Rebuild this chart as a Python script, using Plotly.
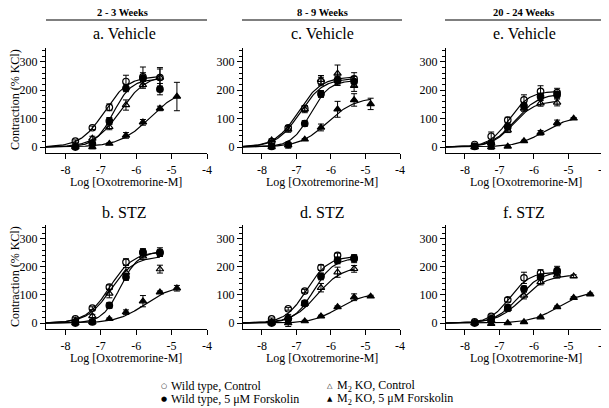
import numpy as np
import plotly.graph_objects as go

# the page body keeps its default 8 px margin, so the figure is drawn 8 px smaller
# and every reference pixel position is shifted by that margin
REF_W, REF_H, BODY = 609, 408, 8
W, H = REF_W - BODY, REF_H - BODY

# log molar concentrations of oxotremorine-M (3-fold steps)
LOG_CONC = [-7.72, -7.24, -6.76, -6.29, -5.81, -5.33, -4.85, -4.37]

X_TICKS = [-8, -7, -6, -5, -4]
Y_TICKS = [0, 100, 200, 300]

PANEL_TITLES = ["a. Vehicle", "b. STZ", "c. Vehicle", "d. STZ", "e. Vehicle", "f. STZ"]
GROUP_TITLES = ["2 - 3 Weeks", "8 - 9 Weeks", "20 - 24 Weeks"]
SERIES_NAMES = ["Wild type, Control", "Wild type, 5 \u03bcM Forskolin",
                "M<sub>2</sub> KO, Control", "M<sub>2</sub> KO, 5 \u03bcM Forskolin"]

# ---- panel a (2-3 weeks, vehicle)
a_wt_ctrl = [21, 68, 140, 231, 247, 245]
a_wt_ctrl_err = [4, 6, 12, 22, 35, 30]
a_wt_fsk = [0, 12, 92, 207, 242, 204]
a_wt_fsk_err = [3, 5, 12, 12, 20, 20]
a_ko_ctrl = [5, 30, 71, 148, 219, 245]
a_ko_ctrl_err = [3, 8, 10, 18, 12, 35]
a_ko_fsk = [0, 0, 12, 41, 87, 136, 178]
a_ko_fsk_err = [2, 6, 3, 10, 10, 8, 50]
a_fit_top = [250, 240, 255, 210]
a_fit_ec50 = [-6.9, -6.65, -6.45, -5.6]
a_fit_hill = [1.3, 1.7, 1.2, 1.0]

# ---- panel b (2-3 weeks, STZ)
b_wt_ctrl = [15, 53, 128, 217, 250, 253]
b_wt_ctrl_err = [4, 5, 8, 12, 10, 15]
b_wt_fsk = [0, 4, 63, 164, 253, 249]
b_wt_fsk_err = [3, 5, 10, 12, 12, 12]
b_ko_ctrl = [9, 25, 105, 180, 238, 192]
b_ko_ctrl_err = [4, 6, 15, 18, 12, 14]
b_ko_fsk = [0, 4, 15, 39, 78, 110, 124]
b_ko_fsk_err = [2, 8, 3, 8, 20, 4, 10]
b_fit_top = [255, 255, 238, 135]
b_fit_ec50 = [-6.75, -6.45, -6.72, -5.75]
b_fit_hill = [1.3, 1.7, 1.3, 1.1]

# ---- panel c (8-9 weeks, vehicle)
c_wt_ctrl = [18, 68, 136, 231, 237, 240]
c_wt_ctrl_err = [5, 8, 10, 15, 20, 22]
c_wt_fsk = [2, 9, 83, 187, 234, 231]
c_wt_fsk_err = [3, 5, 10, 12, 15, 18]
c_ko_ctrl = [24, 62, 133, 237, 259, 216]
c_ko_ctrl_err = [5, 10, 12, 15, 30, 20]
c_ko_fsk = [0, 6, 27, 69, 133, 166, 152]
c_ko_fsk_err = [2, 10, 3, 12, 28, 22, 20]
c_fit_top = [242, 235, 248, 175]
c_fit_ec50 = [-6.9, -6.6, -6.95, -6.1]
c_fit_hill = [1.3, 1.6, 1.3, 1.1]

# ---- panel d (8-9 weeks, STZ)
d_wt_ctrl = [15, 51, 114, 197, 241, 232]
d_wt_ctrl_err = [3, 5, 6, 10, 8, 10]
d_wt_fsk = [0, 15, 71, 166, 223, 229]
d_wt_fsk_err = [3, 10, 8, 12, 12, 14]
d_ko_ctrl = [4, 21, 69, 126, 181, 193]
d_ko_ctrl_err = [3, 10, 10, 15, 18, 12]
d_ko_fsk = [0, 0, 7, 24, 57, 92, 95]
d_ko_fsk_err = [2, 12, 3, 4, 4, 12, 4]
d_fit_top = [238, 232, 202, 105]
d_fit_ec50 = [-6.7, -6.5, -6.4, -5.8]
d_fit_hill = [1.4, 1.5, 1.2, 1.2]

# ---- panel e (20-24 weeks, vehicle)
e_wt_ctrl = [9, 38, 95, 166, 196, 192]
e_wt_ctrl_err = [4, 15, 10, 18, 20, 15]
e_wt_fsk = [2, 12, 71, 145, 178, 184]
e_wt_fsk_err = [3, 8, 10, 12, 12, 12]
e_ko_ctrl = [0, 14, 59, 136, 154, 157]
e_ko_ctrl_err = [3, 6, 8, 10, 10, 12]
e_ko_fsk = [0, 0, 2, 21, 50, 85, 101]
e_ko_fsk_err = [2, 8, 2, 3, 8, 10, 3]
e_fit_top = [197, 188, 163, 110]
e_fit_ec50 = [-6.72, -6.55, -6.6, -5.7]
e_fit_hill = [1.5, 1.3, 1.4, 1.1]

# ---- panel f (20-24 weeks, STZ)
f_wt_ctrl = [4, 24, 83, 161, 178, 181]
f_wt_ctrl_err = [3, 5, 8, 20, 12, 10]
f_wt_fsk = [0, 15, 55, 122, 164, 187]
f_wt_fsk_err = [3, 5, 10, 10, 10, 15]
f_ko_ctrl = [0, 9, 51, 98, 146, 170, 167]
f_ko_ctrl_err = [3, 5, 10, 12, 10, 10, 5]
f_ko_fsk = [0, -2, 0, 4, 21, 57, 90, 103]
f_ko_fsk_err = [2, 6, 2, 2, 3, 4, 4, 4]
f_fit_top = [182, 185, 172, 115]
f_fit_ec50 = [-6.7, -6.45, -6.35, -5.3]
f_fit_hill = [1.5, 1.3, 1.2, 1.1]

PANELS = [
    ([a_wt_ctrl, a_wt_fsk, a_ko_ctrl, a_ko_fsk],
     [a_wt_ctrl_err, a_wt_fsk_err, a_ko_ctrl_err, a_ko_fsk_err],
     a_fit_top, a_fit_ec50, a_fit_hill),
    ([b_wt_ctrl, b_wt_fsk, b_ko_ctrl, b_ko_fsk],
     [b_wt_ctrl_err, b_wt_fsk_err, b_ko_ctrl_err, b_ko_fsk_err],
     b_fit_top, b_fit_ec50, b_fit_hill),
    ([c_wt_ctrl, c_wt_fsk, c_ko_ctrl, c_ko_fsk],
     [c_wt_ctrl_err, c_wt_fsk_err, c_ko_ctrl_err, c_ko_fsk_err],
     c_fit_top, c_fit_ec50, c_fit_hill),
    ([d_wt_ctrl, d_wt_fsk, d_ko_ctrl, d_ko_fsk],
     [d_wt_ctrl_err, d_wt_fsk_err, d_ko_ctrl_err, d_ko_fsk_err],
     d_fit_top, d_fit_ec50, d_fit_hill),
    ([e_wt_ctrl, e_wt_fsk, e_ko_ctrl, e_ko_fsk],
     [e_wt_ctrl_err, e_wt_fsk_err, e_ko_ctrl_err, e_ko_fsk_err],
     e_fit_top, e_fit_ec50, e_fit_hill),
    ([f_wt_ctrl, f_wt_fsk, f_ko_ctrl, f_ko_fsk],
     [f_wt_ctrl_err, f_wt_fsk_err, f_ko_ctrl_err, f_ko_fsk_err],
     f_fit_top, f_fit_ec50, f_fit_hill),
]

# ---------------- styling / layout ----------------
SYMBOLS = ["circle-open", "circle", "triangle-up-open", "triangle-up"]
SERIF = "Liberation Serif"
X_RANGE = [-8.55, -4.0]
Y_RANGE = [-21, 349]

# column x-extents and row y-extents in reference pixels
COL_PX = [(46, 207), (243, 400), (446, 603)]
ROW_PX = [(48, 153), (225, 329)]


def px_x(p):
    return (p - BODY) / W


def px_y(p):
    return 1 - (p - BODY) / H


def hill(x, top, ec50, h):
    return top / (1 + 10 ** (h * (ec50 - x)))


fig = go.Figure()
layout = dict(
    template="none",
    width=W, height=H, margin=dict(l=0, r=0, t=0, b=0),
    paper_bgcolor="white", plot_bgcolor="white", showlegend=False,
    font=dict(family=SERIF, size=12, color="black"),
)

annotations = []
shapes = []

for i, (series, errs, tops, ec50s, hills) in enumerate(PANELS):
    col, row = i // 2, i % 2
    n = i + 1
    xa = "x" if n == 1 else f"x{n}"
    ya = "y" if n == 1 else f"y{n}"
    xkey = "xaxis" if n == 1 else f"xaxis{n}"
    ykey = "yaxis" if n == 1 else f"yaxis{n}"
    cx0, cx1 = COL_PX[col]
    ry0, ry1 = ROW_PX[row]
    layout[xkey] = dict(
        domain=[px_x(cx0), min(1.0, px_x(cx1))], range=X_RANGE, anchor=ya,
        tickvals=X_TICKS, ticktext=[str(t) for t in X_TICKS],
        showline=True, linecolor="black", linewidth=1.2, mirror=False,
        ticks="outside", ticklen=5, tickwidth=1.2, tickcolor="black",
        showgrid=False, zeroline=False, ticklabeloverflow="allow",
        tickfont=dict(family=SERIF, size=12, color="black"),
    )
    layout[ykey] = dict(
        domain=[px_y(ry1), px_y(ry0)], range=Y_RANGE, anchor=xa,
        tickvals=Y_TICKS, ticktext=[str(t) for t in Y_TICKS],
        showline=True, linecolor="black", linewidth=1.2,
        ticks="outside", ticklen=5, tickwidth=1.2, tickcolor="black",
        minor=dict(tickvals=[v for v in range(20, 341, 20) if v % 100 != 0],
                   ticks="outside", ticklen=2.5, tickwidth=1, tickcolor="black",
                   showgrid=False),
        showgrid=False, zeroline=False,
        tickfont=dict(family=SERIF, size=12, color="black"),
    )

    # fitted curves
    for k in range(4):
        last_x = LOG_CONC[len(series[k]) - 1]
        xs = np.linspace(X_RANGE[0], last_x, 120)
        ys = hill(xs, tops[k], ec50s[k], hills[k])
        fig.add_trace(go.Scatter(x=xs, y=ys, mode="lines", xaxis=xa, yaxis=ya,
                                 line=dict(color="black", width=1.2),
                                 hoverinfo="skip"))
    # data points with SEM
    for k in range(4):
        m = len(series[k])
        fig.add_trace(go.Scatter(
            x=LOG_CONC[:m], y=series[k], mode="markers", xaxis=xa, yaxis=ya,
            name=SERIES_NAMES[k],
            marker=dict(symbol=SYMBOLS[k], size=6.5, color="black",
                        line=dict(color="black", width=1.2)),
            error_y=dict(type="data", array=errs[k], visible=True,
                         color="black", thickness=1, width=3),
        ))

    # panel title
    title_y = 33 if row == 0 else 212
    annotations.append(dict(
        text=PANEL_TITLES[i], x=px_x([124, 322, 524][col]), y=px_y(title_y),
        xref="paper", yref="paper", showarrow=False,
        xanchor="center", yanchor="middle",
        font=dict(family=SERIF, size=16, color="black")))
    # x-axis title
    xt_y = 182 if row == 0 else 358
    annotations.append(dict(
        text="Log [Oxotremorine-M]", x=px_x([126, 322, 526][col]), y=px_y(xt_y),
        xref="paper", yref="paper", showarrow=False,
        xanchor="center", yanchor="middle",
        font=dict(family=SERIF, size=12, color="black")))
    # y-axis title (first column only)
    if col == 0:
        annotations.append(dict(
            text="Contraction (% KCl)", x=px_x(15), y=px_y([100, 277][row]),
            xref="paper", yref="paper", showarrow=False, textangle=-90,
            xanchor="center", yanchor="middle",
            font=dict(family=SERIF, size=12, color="black")))

# group headers with underline (kept just inside the drawable area)
HEADER_LINES = [(46, 207), (242, 402), (445, 609)]
HEADER_CX = [122, 322, 523]
for g in range(3):
    annotations.append(dict(
        text=f"<b>{GROUP_TITLES[g]}</b>", x=px_x(HEADER_CX[g]), y=px_y(13),
        xref="paper", yref="paper", showarrow=False,
        xanchor="center", yanchor="middle",
        font=dict(family=SERIF, size=10.5, color="black")))
    x0, x1 = HEADER_LINES[g]
    shapes.append(dict(type="line", xref="paper", yref="paper",
                       x0=px_x(x0), x1=min(1.0, px_x(x1)), y0=px_y(20), y1=px_y(20),
                       line=dict(color="black", width=1.2)))

# legend (two columns of symbol + label)
LEG_SYMS = ["\u25cb", "\u25cf", "\u25b3", "\u25b2"]
LEG_POS = [(164, 386), (164, 399), (330, 386), (330, 399)]
for k in range(4):
    sx, sy = LEG_POS[k]
    annotations.append(dict(
        text=LEG_SYMS[k], x=px_x(sx), y=px_y(sy), xref="paper", yref="paper",
        showarrow=False, xanchor="center", yanchor="middle",
        font=dict(family="DejaVu Sans", size=7, color="black")))
    annotations.append(dict(
        text=SERIES_NAMES[k], x=px_x(sx + 5), y=px_y(sy), xref="paper", yref="paper",
        showarrow=False, xanchor="left", yanchor="middle",
        font=dict(family=SERIF, size=12, color="black")))

layout["annotations"] = annotations
layout["shapes"] = shapes
fig.update_layout(**layout)
fig.write_html("out.html")
